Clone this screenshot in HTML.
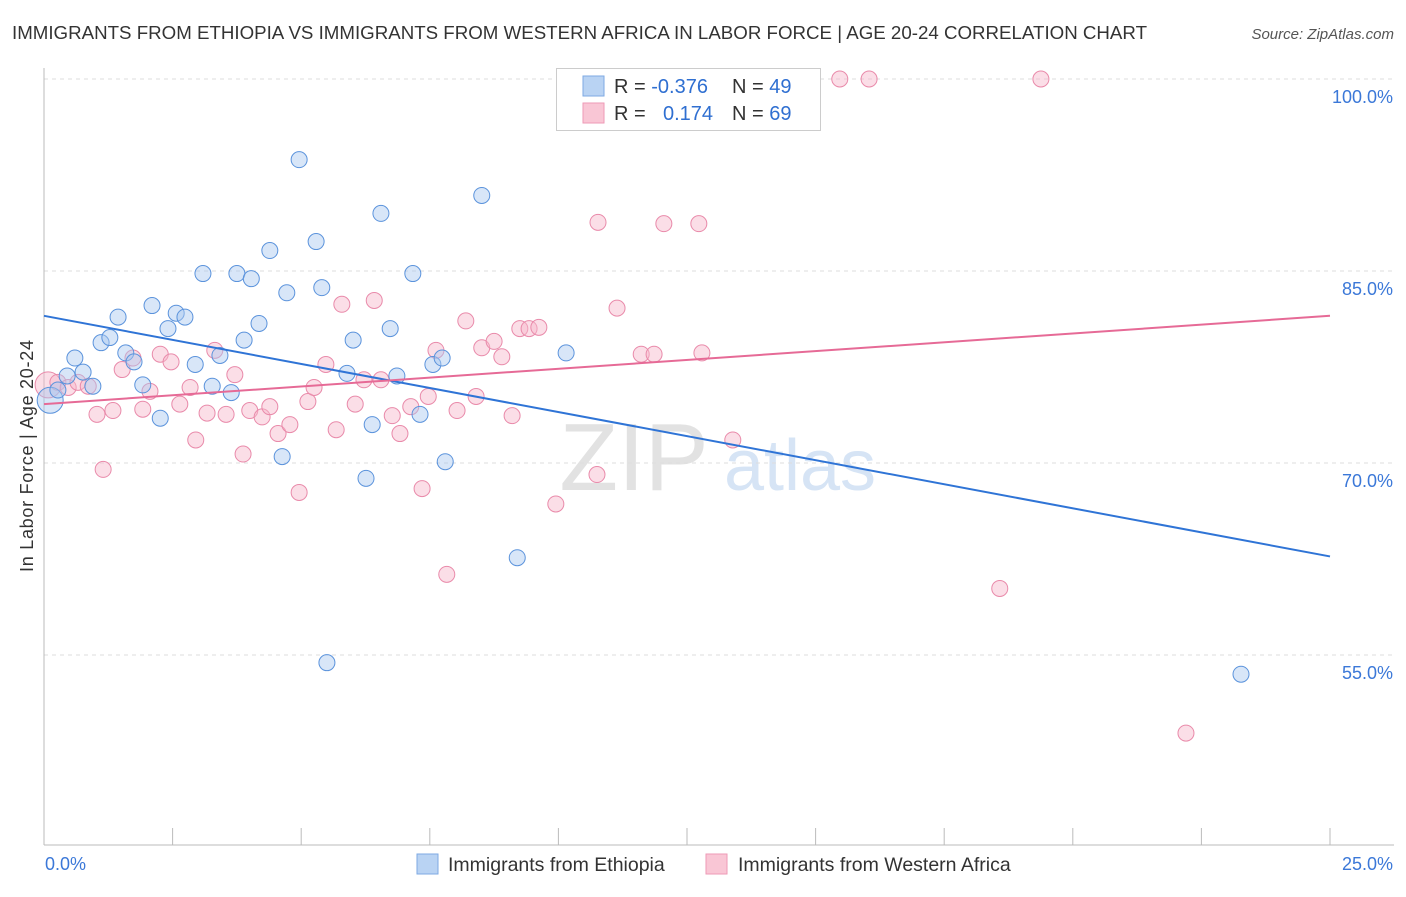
<!DOCTYPE html>
<html><head><meta charset="utf-8"><style>
body{margin:0;background:#fff;font-family:"Liberation Sans",sans-serif;}
svg text{font-family:"Liberation Sans",sans-serif;}
</style></head><body>
<svg id="chart" width="1406" height="892">
<text x="12" y="39" font-size="18" fill="#333" textLength="1135" lengthAdjust="spacingAndGlyphs">IMMIGRANTS FROM ETHIOPIA VS IMMIGRANTS FROM WESTERN AFRICA IN LABOR FORCE | AGE 20-24 CORRELATION CHART</text>
<text x="1394" y="39" font-size="15" fill="#555" font-style="italic" text-anchor="end">Source: ZipAtlas.com</text>
<text x="33" y="456" font-size="18" fill="#333" text-anchor="middle" transform="rotate(-90 33 456)" textLength="232">In Labor Force | Age 20-24</text>
<g>
<text x="634" y="490" font-size="96" fill="#e2e2e2" font-family="Liberation Serif" text-anchor="middle">ZIP</text>
<text x="800" y="490" font-size="72" fill="#d6e4f5" text-anchor="middle">atlas</text>
</g>
<g id="grid"></g>
<g id="axes"></g>
<g id="pts"></g>
<g id="trends"></g>
<g>
<rect x="556.5" y="68.5" width="264" height="62" fill="#fff" stroke="#ccc"/>
<rect x="583" y="76" width="21" height="20" fill="#b9d3f3" stroke="#7ea9e3"/>
<rect x="583" y="103" width="21" height="20" fill="#f9c6d5" stroke="#ee9ab6"/>
<text x="614" y="93" font-size="20" fill="#333">R = <tspan fill="#2f6fd1">-0.376</tspan></text>
<text x="732" y="93" font-size="20" fill="#333">N = <tspan fill="#2f6fd1">49</tspan></text>
<text x="614" y="120" font-size="20" fill="#333">R = </text>
<text x="663" y="120" font-size="20" fill="#2f6fd1">0.174</text>
<text x="732" y="120" font-size="20" fill="#333">N = <tspan fill="#2f6fd1">69</tspan></text>
</g>
<g>
<rect x="417" y="854" width="21" height="20" fill="#b9d3f3" stroke="#7ea9e3"/>
<text x="448" y="871" font-size="19.5" fill="#333">Immigrants from Ethiopia</text>
<rect x="706" y="854" width="21" height="20" fill="#f9c6d5" stroke="#ee9ab6"/>
<text x="738" y="871" font-size="19.5" fill="#333">Immigrants from Western Africa</text>
</g>
</svg>
<script>
const yTicks=[100,85,70,55];
const yTickLabels=["100.0%","85.0%","70.0%","55.0%"];
const xTickLabels=["0.0%","25.0%"];
const ethX=[0.12,0.27,0.45,0.60,0.76,0.95,1.11,1.28,1.44,1.59,1.75,1.92,2.10,2.26,2.41,2.57,2.74,2.94,3.09,3.27,3.42,3.64,3.75,3.89,4.03,4.18,4.39,4.63,4.72,4.96,5.29,5.40,5.50,5.89,6.01,6.26,6.38,6.55,6.73,6.86,7.17,7.31,7.56,7.74,7.80,8.51,9.20,10.15,23.27];
const ethY=[74.9,75.7,76.8,78.2,77.1,76.0,79.4,79.8,81.4,78.6,77.9,76.1,82.3,73.5,80.5,81.7,81.4,77.7,84.8,76.0,78.4,75.5,84.8,79.6,84.4,80.9,86.6,70.5,83.3,93.7,87.3,83.7,54.4,77.0,79.6,68.8,73.0,89.5,80.5,76.8,84.8,73.8,77.7,78.2,70.1,90.9,62.6,78.6,53.5];
const wafX=[0.08,0.27,0.47,0.66,0.86,1.03,1.15,1.34,1.52,1.73,1.92,2.06,2.26,2.47,2.64,2.84,2.95,3.17,3.32,3.54,3.71,3.87,4.00,4.24,4.39,4.55,4.78,4.96,5.13,5.25,5.48,5.68,5.79,6.05,6.22,6.42,6.55,6.77,6.92,7.13,7.35,7.47,7.62,7.83,8.03,8.20,8.40,8.51,8.75,8.90,9.10,9.25,9.43,9.62,9.95,10.75,10.77,11.14,11.61,11.86,12.05,12.73,12.79,13.39,15.47,16.04,18.58,19.38,22.20];
const wafY=[76.1,76.3,75.9,76.3,76.0,73.8,69.5,74.1,77.3,78.2,74.2,75.6,78.5,77.9,74.6,75.9,71.8,73.9,78.8,73.8,76.9,70.7,74.1,73.6,74.4,72.3,73.0,67.7,74.8,75.9,77.7,72.6,82.4,74.6,76.5,82.7,76.5,73.7,72.3,74.4,68.0,75.2,78.8,61.3,74.1,81.1,75.2,79.0,79.5,78.3,73.7,80.5,80.5,80.6,66.8,69.1,88.8,82.1,78.5,78.5,88.7,88.7,78.6,71.8,100,100,60.2,100,48.9];
const ethTrend=[81.5,62.7];
const wafTrend=[74.6,81.5];
const NS="http://www.w3.org/2000/svg";
const X0=44,X1=1330,Y100=79,PPP=12.8;
const xs=v=>X0+(v/25)*(X1-X0);
const ys=v=>Y100+(100-v)*PPP;
function mk(tag,attrs,parent){const e=document.createElementNS(NS,tag);for(const k in attrs)e.setAttribute(k,attrs[k]);document.getElementById(parent).appendChild(e);return e;}
yTicks.forEach((t,i)=>{
 const l=mk('line',{x1:X0,x2:1394,y1:ys(t),y2:ys(t),stroke:'#ddd','stroke-dasharray':'4,4'},'grid');
 
 
 const tx=mk('text',{x:1393,y:ys(t)+24,'font-size':18,fill:'#3b78d8','text-anchor':'end'},'grid');
 tx.textContent=yTickLabels[i];
 
 
});
const ax=mk('line',{x1:X0,x2:X0,y1:68,y2:845,stroke:'#bbb'},'axes');


const bx=mk('line',{x1:X0,x2:1394,y1:845,y2:845,stroke:'#bbb'},'axes');


for(let i=0;i<=10;i++){
 const t=mk('line',{x1:xs(i*2.5),x2:xs(i*2.5),y1:828,y2:845,stroke:'#bbb'},'axes');
 
 
}
[[0,'start',45],[25,'end',1393]].forEach((p,i)=>{
 const t=mk('text',{x:p[2],y:870,'font-size':18,fill:'#3b78d8','text-anchor':p[1]},'axes');
 t.textContent=xTickLabels[i];
 
 
});
function pts(X,Y,fill,stroke,name){
 X.forEach((x,i)=>{
  const c=mk('circle',{cx:xs(x),cy:ys(Y[i]),r:i===0?13:8,fill:fill,'fill-opacity':0.45,stroke:stroke,'stroke-width':1},'pts');
  
  
 });
}
pts(wafX,wafY,'#f7b6ca','#e98aaa','point-western-africa');
pts(ethX,ethY,'#a8c7f0','#5b93dc','point-ethiopia');
const t1=mk('line',{x1:xs(0),y1:ys(ethTrend[0]),x2:xs(25),y2:ys(ethTrend[1]),stroke:'#2f74d6','stroke-width':2},'trends');


const t2=mk('line',{x1:xs(0),y1:ys(wafTrend[0]),x2:xs(25),y2:ys(wafTrend[1]),stroke:'#e66a96','stroke-width':2},'trends');


</script>
</body></html>
